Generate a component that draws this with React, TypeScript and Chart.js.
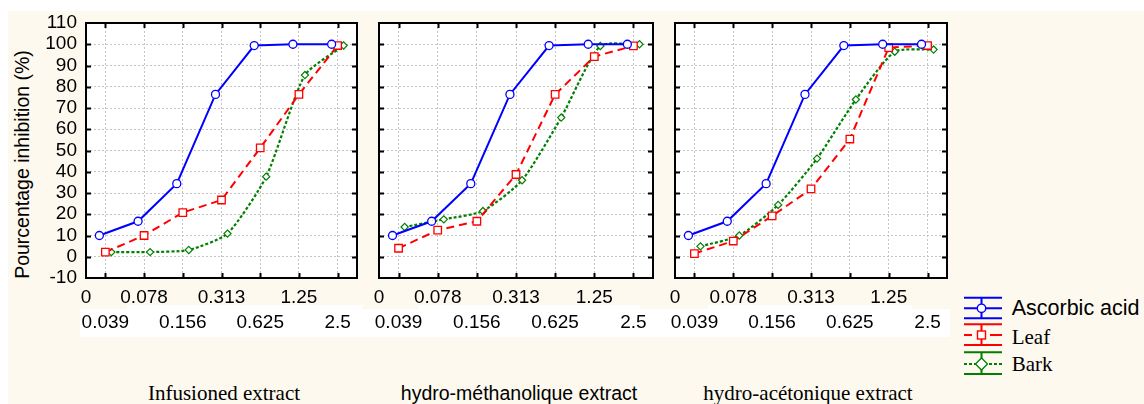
import React, { useEffect, useRef } from 'react';
import { Chart, registerables } from 'chart.js';

Chart.register(...registerables);

// ---------- data ----------
const concentrations = ['0.039', '0.078', '0.156', '0.313', '0.625', '1.25', '2.5'];
const axisStartLabel = '0';
const yMin = -10;
const yMax = 110;
const yStep = 10;

const seriesNames = ['Ascorbic acid', 'Leaf', 'Bark'];
const panelTitles = ['Infusioned extract', 'hydro-méthanolique extract', 'hydro-acétonique extract'];
const yAxisTitle = 'Pourcentage inhibition (%)';

const ascorbicAcid = [10, 16.7, 34.4, 76.4, 99.4, 100, 100];

const leafInfusion = [2.2, 10, 20.8, 26.7, 51.2, 76.4, 99.4];
const barkInfusion = [2.2, 2.2, 3.2, 10.9, 37.7, 85.5, 99.4];

const leafMethanol = [4, 12.5, 16.7, 38.7, 76.4, 94.2, 99.2];
const barkMethanol = [14, 17.6, 21.5, 36, 65.5, 99.2, 100];

const leafAcetone = [1.5, 7.4, 19.2, 31.9, 55.4, 98.4, 99.4];
const barkAcetone = [4.9, 10, 24.4, 46.2, 74, 96.5, 97.5];

// horizontal dodge of the three series around each concentration (in category units)
const dodge = [-0.155, 0, 0.155];

// ---------- layout / style ----------
const SANS = '"Liberation Sans", Arial, Helvetica, sans-serif';
const SERIF = '"Liberation Serif", "Times New Roman", Times, serif';
const CREAM = '#fdf9ee';
const BLUE = '#0000ff';
const RED = '#ff0000';
const GREEN = '#008000';
const GRID = '#c4c4c4';

const CANVAS_H = 345;
const PLOT_TOP = 23;
const X_AXIS_H = 67;
const PAD_R = 8;

const panels = [
  { title: panelTitles[0], leaf: leafInfusion, bark: barkInfusion, boxLeft: 86, boxRight: 357, showY: true, titleX: 224, titleFont: SERIF, titleSize: 21 },
  { title: panelTitles[1], leaf: leafMethanol, bark: barkMethanol, boxLeft: 379, boxRight: 653, showY: false, titleX: 519, titleFont: SANS, titleSize: 19.5 },
  { title: panelTitles[2], leaf: leafAcetone, bark: barkAcetone, boxLeft: 675, boxRight: 947, showY: false, titleX: 808, titleFont: SERIF, titleSize: 21 },
];

Chart.defaults.font.family = SANS;
Chart.defaults.color = '#000';

const toPoints = (vals: number[], off: number) => vals.map((v, i) => ({ x: i + off, y: v }));

const xLabel = (value: number) => {
  if (value < 0) return [axisStartLabel, ''];
  const i = Math.round(value);
  return i % 2 === 0 ? ['', concentrations[i]] : [concentrations[i], ''];
};

const framePlugin = {
  id: 'frame',
  beforeDraw(chart: any) {
    const { ctx, chartArea } = chart;
    ctx.save();
    ctx.fillStyle = '#ffffff';
    ctx.fillRect(chartArea.left, chartArea.top, chartArea.right - chartArea.left, chartArea.bottom - chartArea.top);
    ctx.restore();
  },
  afterDraw(chart: any) {
    const { ctx, chartArea } = chart;
    const { left, right, top, bottom } = chartArea;
    const xs = chart.scales.x;
    const ys = chart.scales.y;
    ctx.save();
    ctx.strokeStyle = '#000';
    ctx.lineWidth = 2;
    ctx.setLineDash([]);
    ctx.beginPath();
    const tl = 5;
    xs.ticks.forEach((t: any) => {
      if (t.value < 0) return;
      const px = Math.round(xs.getPixelForValue(t.value)) + 0.5;
      ctx.moveTo(px, top);
      ctx.lineTo(px, top + tl);
      ctx.moveTo(px, bottom);
      ctx.lineTo(px, bottom - tl);
    });
    ys.ticks.forEach((t: any) => {
      if (t.value <= yMin || t.value >= yMax) return;
      const py = Math.round(ys.getPixelForValue(t.value)) + 0.5;
      ctx.moveTo(left, py);
      ctx.lineTo(left + tl, py);
      ctx.moveTo(right, py);
      ctx.lineTo(right - tl, py);
    });
    ctx.stroke();
    ctx.strokeRect(left, top, right - left, bottom - top);
    ctx.restore();
  },
};

function Panel({ index }: { index: number }) {
  const ref = useRef<HTMLCanvasElement>(null);
  const p = panels[index];
  const yW = p.showY ? 86 : 30;
  const width = yW + (p.boxRight - p.boxLeft) + PAD_R;

  useEffect(() => {
    const chart = new Chart(ref.current as HTMLCanvasElement, {
      type: 'line',
      data: {
        datasets: [
          {
            label: seriesNames[0],
            data: toPoints(ascorbicAcid, dodge[0]),
            borderColor: BLUE,
            borderWidth: 2,
            pointStyle: 'circle',
            pointRadius: 4,
            pointBorderWidth: 1.3,
            pointBackgroundColor: '#ffffff',
            pointBorderColor: BLUE,
            tension: 0,
          },
          {
            label: seriesNames[1],
            data: toPoints(p.leaf, dodge[1]),
            borderColor: RED,
            borderWidth: 2,
            borderDash: [8, 5],
            pointStyle: 'rect',
            pointRadius: 5.3,
            pointBorderWidth: 1.3,
            pointBackgroundColor: '#ffffff',
            pointBorderColor: RED,
            tension: 0,
          },
          {
            label: seriesNames[2],
            data: toPoints(p.bark, dodge[2]),
            borderColor: GREEN,
            borderWidth: 2.2,
            borderDash: [3, 2],
            pointStyle: 'rectRot',
            pointRadius: 3.6,
            pointBorderWidth: 1.2,
            pointBackgroundColor: '#ffffff',
            pointBorderColor: GREEN,
            tension: 0.2,
          },
        ],
      },
      options: {
        responsive: false,
        animation: false,
        events: [],
        devicePixelRatio: 1,
        layout: { padding: { top: PLOT_TOP, right: PAD_R, bottom: 0, left: 0 } },
        plugins: { legend: { display: false }, tooltip: { enabled: false } },
        scales: {
          x: {
            type: 'linear',
            min: -0.5,
            max: concentrations.length - 0.5,
            afterBuildTicks: (s: any) => {
              s.ticks = [-0.5, ...concentrations.map((_, i) => i)].map((value) => ({ value }));
            },
            afterFit: (s: any) => {
              s.height = X_AXIS_H;
            },
            ticks: {
              autoSkip: false,
              maxRotation: 0,
              minRotation: 0,
              padding: 7,
              color: '#000',
              font: { size: 19, lineHeight: '25px' },
              callback: (v: any) => xLabel(Number(v)),
            },
            grid: { color: GRID, lineWidth: 1, drawTicks: false },
            border: { display: false, dash: [2, 2] },
          },
          y: {
            type: 'linear',
            min: yMin,
            max: yMax,
            afterFit: (s: any) => {
              s.width = yW;
            },
            ticks: {
              stepSize: yStep,
              autoSkip: false,
              display: p.showY,
              padding: 9,
              color: '#000',
              font: { size: 19, lineHeight: 1 },
              callback: (v: any) => String(v),
            },
            grid: { color: GRID, lineWidth: 1, drawTicks: false },
            border: { display: false, dash: [2, 2] },
          },
        },
      },
      plugins: [framePlugin],
    } as any);
    return () => chart.destroy();
  }, []);

  return (
    <canvas
      ref={ref}
      width={width}
      height={CANVAS_H}
      style={{ position: 'absolute', left: p.boxLeft - yW, top: 0, width, height: CANVAS_H }}
    />
  );
}

function LegendSymbols() {
  const x1 = 964;
  const x2 = 1002;
  const cx = 981.5;
  const items = [
    { color: BLUE, top: 297.7, mid: 308.3, bot: 318.3 },
    { color: RED, top: 324.3, mid: 335, bot: 345 },
    { color: GREEN, top: 352.3, mid: 364, bot: 374 },
  ];
  return (
    <g>
      {items.map((it, k) => (
        <g key={k} stroke={it.color} strokeWidth={2} fill="none">
          <line x1={x1} x2={x2} y1={it.top} y2={it.top} />
          <line x1={x1} x2={x2} y1={it.bot} y2={it.bot} />
          <line x1={cx} x2={cx} y1={it.top} y2={it.bot} />
          {k === 0 && <line x1={x1} x2={x2} y1={it.mid} y2={it.mid} />}
          {k === 1 && (
            <>
              <line x1={x1} x2={972} y1={it.mid} y2={it.mid} />
              <line x1={990} x2={x2} y1={it.mid} y2={it.mid} />
            </>
          )}
          {k === 2 && <line x1={x1} x2={x2} y1={it.mid} y2={it.mid} strokeDasharray="3 2" />}
          {k === 0 && <circle cx={cx} cy={it.mid} r={4.2} fill="#fff" strokeWidth={1.4} />}
          {k === 1 && <rect x={cx - 4} y={it.mid - 4} width={8} height={8} fill="#fff" strokeWidth={1.4} />}
          {k === 2 && (
            <polygon
              points={`${cx - 6},${it.mid} ${cx},${it.mid - 6} ${cx + 6},${it.mid} ${cx},${it.mid + 6}`}
              fill="#fff"
              strokeWidth={1.3}
            />
          )}
        </g>
      ))}
    </g>
  );
}

export default function App() {
  return (
    <div style={{ position: 'fixed', left: 0, top: 0, width: 1144, height: 404, background: CREAM, overflow: 'hidden' }}>
      <svg width={1144} height={404} style={{ position: 'absolute', left: 0, top: 0 }}>
        <rect x={0} y={0} width={1144} height={11} fill="#fff" />
        <rect x={0} y={0} width={8} height={404} fill="#fff" />
        <rect x={80} y={309} width={870} height={28} fill="#fff" />
        <rect x={127} y={305} width={235} height={4} fill="#fff" />
        <rect x={418} y={305} width={222} height={4} fill="#fff" />
        <rect x={708} y={305} width={204} height={4} fill="#fff" />
        <text
          transform="translate(29.3,164.5) rotate(-90)"
          textAnchor="middle"
          fontFamily={SANS}
          fontSize={19.5}
          fill="#000"
        >
          {yAxisTitle}
        </text>
        {panels.map((p, i) => (
          <text key={i} x={p.titleX} y={400} textAnchor="middle" fontFamily={p.titleFont} fontSize={p.titleSize} fill="#000">
            {p.title}
          </text>
        ))}
        <LegendSymbols />
        <text x={1011.7} y={315} fontFamily={SANS} fontSize={21.5} fill="#000">{seriesNames[0]}</text>
        <text x={1011.7} y={344} fontFamily={SERIF} fontSize={21} fill="#000">{seriesNames[1]}</text>
        <text x={1011.7} y={371} fontFamily={SERIF} fontSize={21} fill="#000">{seriesNames[2]}</text>
      </svg>
      {panels.map((_, i) => (
        <Panel key={i} index={i} />
      ))}
    </div>
  );
}
